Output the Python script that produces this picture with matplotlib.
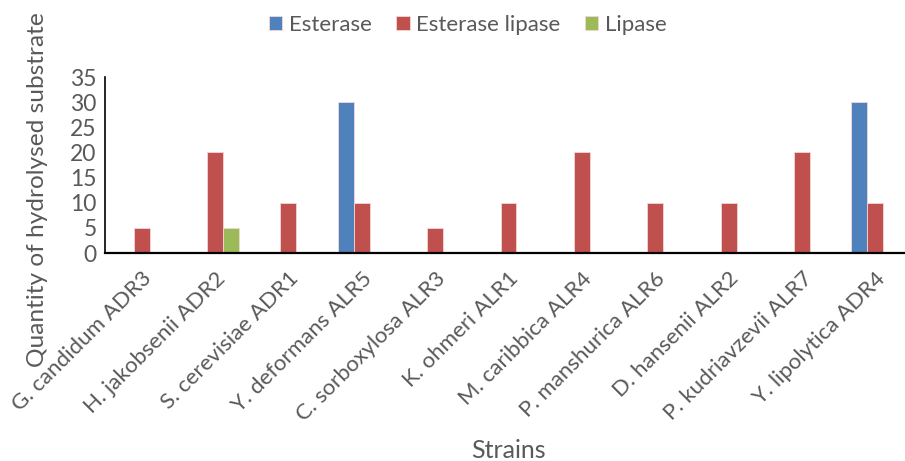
import matplotlib
matplotlib.use("Agg")
import matplotlib.pyplot as plt
import numpy as np

plt.rcParams['font.family'] = ['Lato', 'DejaVu Sans']

strains = ["G. candidum ADR3", "H. jakobsenii ADR2", "S. cerevisiae ADR1",
           "Y. deformans ALR5", "C. sorboxylosa ALR3", "K. ohmeri ALR1",
           "M. caribbica ALR4", "P. manshurica ALR6", "D. hansenii ALR2",
           "P. kudriavzevii ALR7", "Y. lipolytica ADR4"]
esterase = [0, 0, 0, 30, 0, 0, 0, 0, 0, 0, 30]
esterase_lipase = [5, 20, 10, 10, 5, 10, 20, 10, 10, 20, 10]
lipase = [0, 5, 0, 0, 0, 0, 0, 0, 0, 0, 0]

series = [("Esterase", esterase, "#4F81BD"),
          ("Esterase lipase", esterase_lipase, "#C0504D"),
          ("Lipase", lipase, "#9BBB59")]

grey = "#595959"
fig = plt.figure(figsize=(9.05, 4.61), dpi=100)
# axes box in pixels: left 105, right ~912 (runs off the edge), top 77, bottom 253
ax = fig.add_axes([105 / 905, 1 - 253 / 461, (912 - 105) / 905, (253 - 77) / 461])

x = np.arange(len(strains))
w = 0.218
for i, (name, vals, col) in enumerate(series):
    ax.bar(x + (i - 1) * w, vals, w, color=col, label=name,
           edgecolor="#f4d6d6", linewidth=0.6)

ax.set_xlim(-0.5, len(strains) - 0.5)
ax.set_ylim(0, 35)
ax.set_yticks(range(0, 36, 5))
ax.set_xticks(x)
ax.set_xticklabels(strains, rotation=45, ha="right", rotation_mode="anchor",
                   fontsize=16, color=grey)
ax.tick_params(axis="y", labelsize=16.5, labelcolor=grey, length=0, pad=6)
ax.tick_params(axis="x", length=0, pad=11)

for s in ["top", "right"]:
    ax.spines[s].set_visible(False)
ax.spines["left"].set_linewidth(1.2)
ax.spines["bottom"].set_linewidth(1.6)

fig.text(37 / 905, 1 - 190 / 461, "Quantity of hydrolysed substrate",
         rotation=90, ha="center", va="center", fontsize=17.6, color=grey)
fig.text(508 / 905, 1 - 450 / 461, "Strains", ha="center", va="center",
         fontsize=18, color=grey)

fig.legend(loc="center", bbox_to_anchor=(468 / 905, 1 - 25 / 461), ncol=3,
           frameon=False, fontsize=16, labelcolor=grey, handlelength=0.6,
           handleheight=0.6, handletextpad=0.3, columnspacing=1.1)

fig.savefig("out.png", dpi=100)
